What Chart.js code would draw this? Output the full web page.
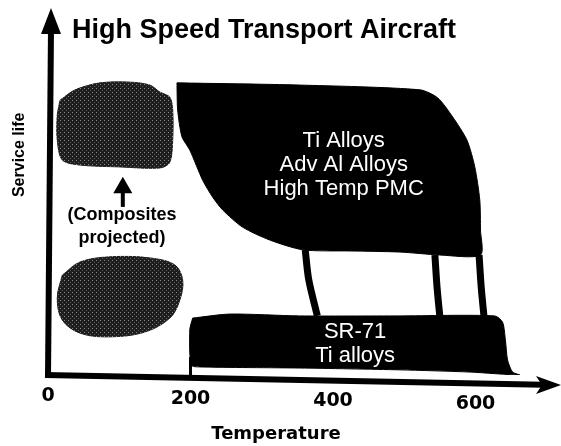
<!DOCTYPE html>
<html>
<head>
<meta charset="utf-8">
<script src="https://cdn.jsdelivr.net/npm/chart.js@4.4.0/dist/chart.umd.min.js"></script>
<style>
  html, body { margin: 0; padding: 0; background: #fff; }
  #wrap { width: 561px; height: 446px; }
</style>
</head>
<body>
<div id="wrap"><canvas id="myChart" width="561" height="446"></canvas></div>
<script>
// temperature ticks on the x axis
const tempTicks = [0, 200, 400, 600];

// outlines as [temperature, service life] (service life in arbitrary units, 0..100)
const metalRegion = [
    [181, 79.6], [353, 79.0], [522, 77.7], [547, 75.5], [568, 70.3], [588, 64.0],
    [599, 56.7], [606, 47.7], [607, 39.5], [607, 32.7], [550, 32.7], [494, 33.5],
    [424, 33.8], [358, 34.1], [311, 36.8], [273, 40.3], [245, 45.0], [231, 48.5],
    [217, 53.1], [199, 61.3], [188, 64.9], [182, 72.2], [181, 79.6]
];
const legA = [[361, 34.1], [366, 25.9], [378, 16.1]];
const legB = [[543, 32.7], [546, 24.0], [550, 15.8]];
const legC = [[605, 32.7], [608, 24.0], [612, 15.8]];
const sr71Region = [
    [203, 15.5], [255, 16.6], [353, 16.1], [494, 16.1], [627, 16.1], [638, 14.4],
    [642, 9.5], [645, 4.1], [652, 0.8], [662, 0], [592, 0.8], [494, 1.4],
    [353, 1.9], [213, 2.2], [201, 2.7], [199, 12.3], [203, 15.5]
];
const compositeUpper = [
    [17, 74.9], [38, 77.7], [73, 79.6], [115, 79.8], [143, 79.0], [157, 77.1],
    [171, 75.7], [175, 72.2], [175, 64.0], [171, 58.0], [157, 56.4], [101, 56.7],
    [45, 57.2], [20, 58.6], [13, 64.0], [13, 70.8], [17, 74.9]
];
const compositeLower = [
    [20, 27.2], [45, 30.8], [87, 32.2], [143, 31.9], [178, 30.0], [189, 25.9],
    [185, 20.4], [171, 15.5], [136, 11.7], [87, 10.4], [45, 11.4], [20, 15.0],
    [13, 21.0], [20, 27.2]
];
const compositeArrow = [[105, 45.8], [105, 51.0]];
const tick200 = [[200, 0], [200, 4.9]];

const metalLabel = ['Ti Alloys', 'Adv Al Alloys', 'High Temp PMC'];
const sr71Label = ['SR-71', 'Ti alloys'];
const compositeLabel = ['(Composites', 'projected)'];
const chartTitle = 'High Speed Transport Aircraft';
const xTitle = 'Temperature';
const yTitle = 'Service life';

const FONT = "'Liberation Sans', Arial, Helvetica, sans-serif";
const HEAVY = "'DejaVu Sans', 'Liberation Sans', Arial, sans-serif";

function toXY(arr) {
    return arr.map(p => ({x: p[0], y: p[1]}));
}

// stipple fill for the composite blobs
function stipple() {
    const c = document.createElement('canvas');
    c.width = 4; c.height = 4;
    const g = c.getContext('2d');
    g.fillStyle = '#1e1e1e';
    g.fillRect(0, 0, 4, 4);
    g.fillStyle = '#8a8a8a';
    g.fillRect(0, 0, 1, 1);
    g.fillStyle = '#5a5a5a';
    g.fillRect(2, 2, 1, 1);
    return document.getElementById('myChart').getContext('2d').createPattern(c, 'repeat');
}
const grey = stipple();

function blob(data, color, tension) {
    return {
        data: toXY(data),
        showLine: true,
        fill: 'shape',
        backgroundColor: color,
        borderColor: color,
        borderWidth: 1,
        pointRadius: 0,
        tension: tension
    };
}
function stroke(data, width) {
    return {
        data: toXY(data),
        showLine: true,
        fill: false,
        borderColor: '#000',
        borderWidth: width,
        pointRadius: 0,
        tension: 0.3
    };
}

const overlay = {
    id: 'overlay',
    afterDatasetsDraw(chart) {
        const ctx = chart.ctx;
        const a = chart.chartArea;
        const x = chart.scales.x;
        const y = chart.scales.y;
        const drop = 10;
        const axisY = px => a.bottom + (px - a.left) / (a.right - a.left) * drop;

        ctx.save();
        ctx.fillStyle = '#000';
        ctx.strokeStyle = '#000';

        // y axis with arrow
        ctx.lineWidth = 6;
        ctx.beginPath();
        ctx.moveTo(a.left, a.bottom + 2);
        ctx.lineTo(a.left + 3, a.top + 20);
        ctx.stroke();
        ctx.beginPath();
        ctx.moveTo(a.left + 3, a.top);
        ctx.lineTo(a.left - 7, a.top + 26);
        ctx.lineTo(a.left + 13, a.top + 26);
        ctx.closePath();
        ctx.fill();

        // x axis with arrow
        ctx.lineWidth = 6;
        ctx.beginPath();
        ctx.moveTo(a.left - 3, a.bottom);
        ctx.lineTo(a.right - 18, axisY(a.right - 18));
        ctx.stroke();
        ctx.beginPath();
        ctx.moveTo(a.right, a.bottom + drop);
        ctx.lineTo(a.right - 25, a.bottom + drop - 9);
        ctx.lineTo(a.right - 19, a.bottom + drop);
        ctx.lineTo(a.right - 25, a.bottom + drop + 9);
        ctx.closePath();
        ctx.fill();

        // tick labels
        ctx.font = 'bold 19px ' + HEAVY;
        ctx.textAlign = 'center';
        ctx.textBaseline = 'middle';
        tempTicks.forEach(t => {
            const px = x.getPixelForValue(t);
            ctx.fillText(String(t), px, axisY(px) + 21);
        });

        // axis titles
        ctx.font = 'bold 18px ' + HEAVY;
        ctx.fillText(xTitle, x.getPixelForValue(320), 434);
        ctx.save();
        ctx.translate(20, y.getPixelForValue(60));
        ctx.rotate(-Math.PI / 2);
        ctx.font = 'bold 16px ' + FONT;
        ctx.fillText(yTitle, 0, 0);
        ctx.restore();

        // chart title
        ctx.font = 'bold 27px ' + FONT;
        ctx.textAlign = 'left';
        ctx.textBaseline = 'alphabetic';
        ctx.fillText(chartTitle, 72, 38);

        // region labels
        ctx.textAlign = 'center';
        ctx.font = '22px ' + FONT;
        ctx.fillStyle = '#fff';
        metalLabel.forEach((s, i) => ctx.fillText(s, x.getPixelForValue(415), 147 + i * 24));
        sr71Label.forEach((s, i) => ctx.fillText(s, x.getPixelForValue(431), 338 + i * 24));

        ctx.fillStyle = '#000';
        ctx.font = 'bold 18px ' + FONT;
        compositeLabel.forEach((s, i) => ctx.fillText(s, x.getPixelForValue(104), 220 + i * 23));
        ctx.restore();
    }
};

new Chart(document.getElementById('myChart'), {
    type: 'scatter',
    data: {
        datasets: [
            stroke(legA, 7),
            stroke(legB, 7),
            stroke(legC, 7),
            stroke(tick200, 3),
            Object.assign(stroke(compositeArrow, 4), {
                pointRadius: [0, 7],
                pointStyle: 'triangle',
                pointBackgroundColor: '#000',
                pointBorderColor: '#000'
            }),
            blob(metalRegion, '#000', 0.25),
            blob(sr71Region, '#000', 0.25),
            blob(compositeUpper, grey, 0.3),
            blob(compositeLower, grey, 0.35)
        ]
    },
    options: {
        responsive: false,
        animation: false,
        layout: { autoPadding: false, padding: { left: 48, right: 0, top: 8, bottom: 71 } },
        plugins: {
            legend: { display: false },
            tooltip: { enabled: false },
            title: { display: false }
        },
        scales: {
            x: { type: 'linear', min: 0, max: 720, display: false },
            y: { type: 'linear', min: 0, max: 100, display: false }
        }
    },
    plugins: [overlay]
});
</script>
</body>
</html>
